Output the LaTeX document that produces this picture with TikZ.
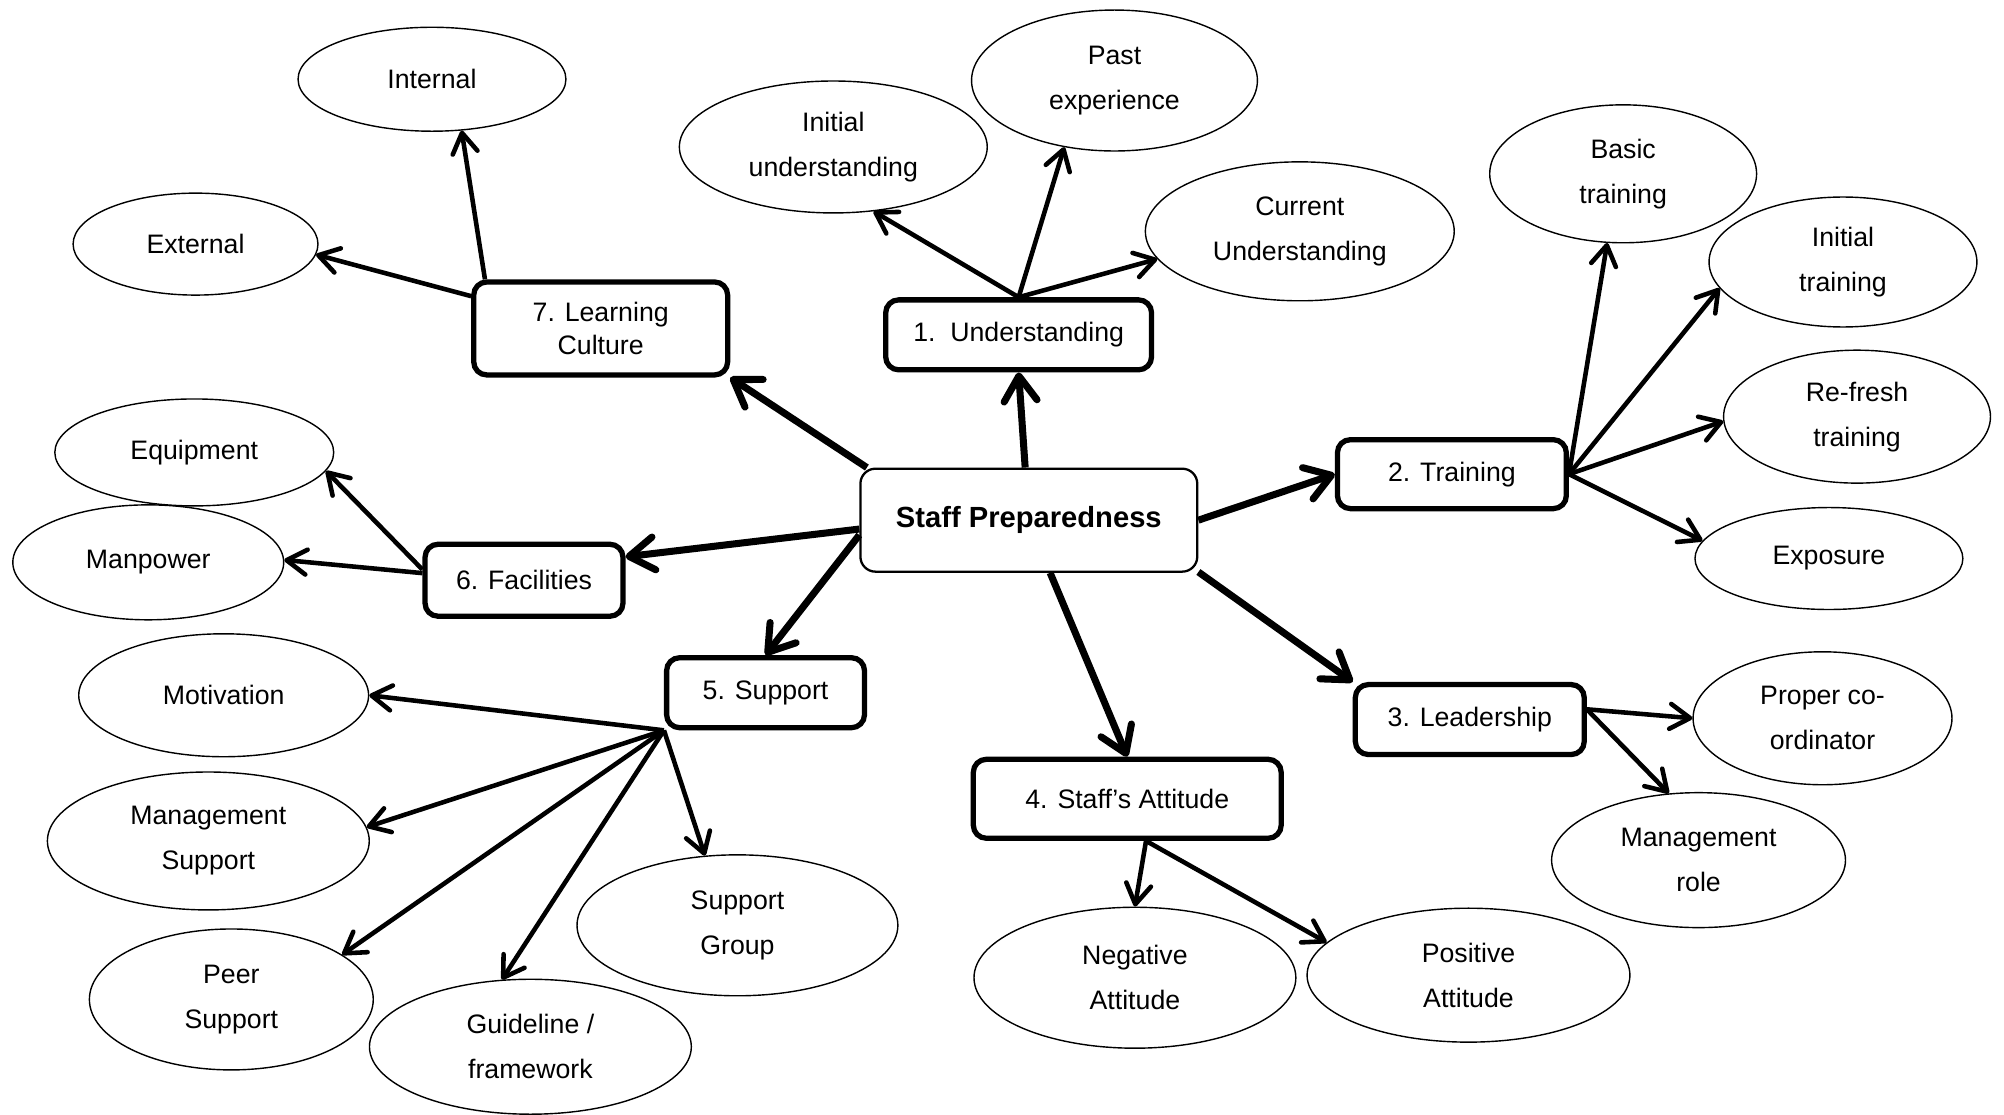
\documentclass[tikz,border=0pt]{standalone}
\usepackage{fontspec}
\setmainfont{Liberation Sans}
\usetikzlibrary{shapes.geometric,arrows.meta}

\begin{document}
\begin{tikzpicture}[x=0.01278cm, y=-0.01278cm,
    idea/.style={draw, ellipse, line width=0.4pt, inner sep=0pt, align=center, font=\fontsize{7.6}{12.8}\selectfont},
    topic/.style={draw, rounded corners=1.3mm, line width=1.5pt, inner sep=0pt, align=center, font=\fontsize{7.6}{9.4}\selectfont},
    hub/.style={draw, rounded corners=1.5mm, line width=0.65pt, inner sep=0pt, font=\fontsize{8.3}{10}\selectfont\bfseries},
    bigarrow/.style={line width=2pt, -{Straight Barb[length=2.5mm,width=3.3mm,round]}},
    smallarrow/.style={line width=1.3pt, -{Straight Barb[length=2mm,width=2.5mm,round]}}]
    \useasboundingbox (0,0) rectangle (1568,872);

    \node (sp) at (805,407) [hub, minimum width=3.37cm, minimum height=1.03cm] {Staff Preparedness};

    \node (n1) at (797,262) [topic, minimum width=2.66cm, minimum height=0.70cm] {1.\ \ Understanding};
    \node (n2) at (1136,371) [topic, minimum width=2.29cm, minimum height=0.69cm] {2. Training};
    \node (n3) at (1150,563) [topic, minimum width=2.29cm, minimum height=0.70cm] {3. Leadership};
    \node (n4) at (882,625) [topic, minimum width=3.08cm, minimum height=0.79cm] {4. Staff’s Attitude};
    \node (n5) at (599,542) [topic, minimum width=1.98cm, minimum height=0.70cm] {5. Support};
    \node (n6) at (410,454) [topic, minimum width=1.98cm, minimum height=0.72cm] {6. Facilities};
    \node (n7) at (470,257) [topic, minimum width=2.54cm, minimum height=0.93cm] {7. Learning\\Culture};

    \node (int) at (338,62) [idea, minimum width=2.68cm, minimum height=1.04cm] {Internal};
    \node (ext) at (153,191) [idea, minimum width=2.45cm, minimum height=1.02cm] {External};
    \node (iu) at (652,115) [idea, minimum width=3.08cm, minimum height=1.32cm] {Initial\\understanding};
    \node (pe) at (872,63) [idea, minimum width=2.86cm, minimum height=1.41cm] {Past\\experience};
    \node (cu) at (1017,181) [idea, minimum width=3.09cm, minimum height=1.39cm] {Current\\Understanding};
    \node (bt) at (1270,136) [idea, minimum width=2.67cm, minimum height=1.38cm] {Basic\\training};
    \node (it) at (1442,205) [idea, minimum width=2.68cm, minimum height=1.30cm] {Initial\\training};
    \node (rt) at (1453,326) [idea, minimum width=2.67cm, minimum height=1.33cm] {Re-fresh\\training};
    \node (exp) at (1431,437) [idea, minimum width=2.68cm, minimum height=1.02cm] {Exposure};
    \node (pc) at (1426,562) [idea, minimum width=2.59cm, minimum height=1.33cm] {Proper co-\\ordinator};
    \node (mr) at (1329,673) [idea, minimum width=2.94cm, minimum height=1.35cm] {Management\\role};
    \node (pa) at (1149,763) [idea, minimum width=3.23cm, minimum height=1.34cm] {Positive\\Attitude};
    \node (na) at (888,765) [idea, minimum width=3.22cm, minimum height=1.41cm] {Negative\\Attitude};
    \node (sg) at (577,724) [idea, minimum width=3.21cm, minimum height=1.41cm] {Support\\Group};
    \node (gf) at (415,819) [idea, minimum width=3.22cm, minimum height=1.35cm] {Guideline /\\framework};
    \node (ps) at (181,782) [idea, minimum width=2.84cm, minimum height=1.41cm] {Peer\\Support};
    \node (ms) at (163,658) [idea, minimum width=3.22cm, minimum height=1.38cm] {Management\\Support};
    \node (mot) at (175,544) [idea, minimum width=2.90cm, minimum height=1.23cm] {Motivation};
    \node (man) at (116,440) [idea, minimum width=2.71cm, minimum height=1.15cm] {Manpower};
    \node (equ) at (152,354) [idea, minimum width=2.79cm, minimum height=1.07cm] {Equipment};

    \foreach \from/\to in {94/n1.south, east/n2.west, -17/n3.north west, -68/n4.north,
                           185/n5.north, 183/n6.13, 162/n7.south east} {
        \draw[bigarrow] (sp.\from) -- (\to);
    }

    \foreach \e/\a in {iu/302, pe/233, cu/191} {
        \draw[smallarrow] (n1.north) -- (\e.\a);
    }
    \foreach \e/\a in {bt/257, it/192, rt/182, exp/172} {
        \draw[smallarrow] (n2.east) -- (\e.\a);
    }
    \foreach \e/\a in {pc/180, mr/114} {
        \draw[smallarrow] (n3.5) -- (\e.\a);
    }
    \foreach \e/\a in {na/90, pa/167} {
        \draw[smallarrow] (n4.294) -- (\e.\a);
    }
    \foreach \e/\a in {mot/0, ms/5, ps/22, gf/113, sg/115} {
        \draw[smallarrow] (n5.south west) -- (\e.\a);
    }
    \draw[smallarrow] (n6.174) -- (equ.352);
    \draw[smallarrow] (n6.176) -- (man.1);
    \draw[smallarrow] (n7.166) -- (ext.355);
    \draw[smallarrow] (n7.157) -- (int.300);
\end{tikzpicture}
\end{document}
